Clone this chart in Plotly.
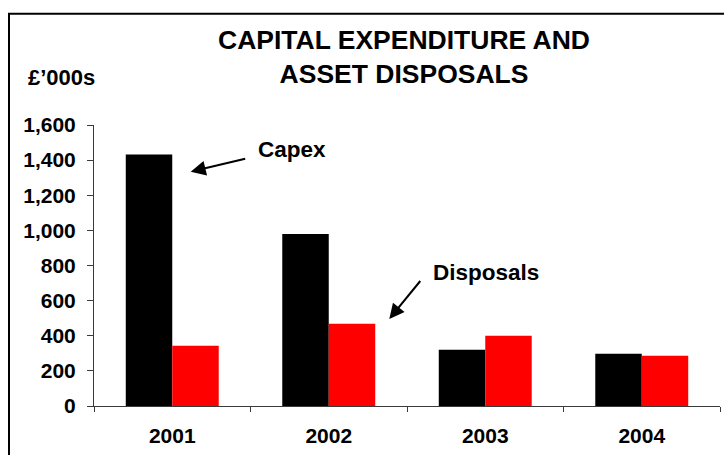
import plotly.graph_objects as go

# Data (£'000s)
years = ["2001", "2002", "2003", "2004"]
capex = [1432, 980, 320, 297]
disposals = [343, 468, 400, 286]
y_ticks = [0, 200, 400, 600, 800, 1000, 1200, 1400, 1600]

W, H = 724, 455
# plot-area edges in pixels
L, R, T, B = 94, 720, 125, 406

FONT = "Liberation Sans, Arial, sans-serif"


def px(x, y):
    """Convert page pixels to paper coordinates of the plot area."""
    return (x - L) / (R - L), (B - y) / (B - T)


fig = go.Figure()
fig.add_trace(go.Bar(x=years, y=capex, name="Capex",
                     marker=dict(color="#000000", line=dict(width=0))))
fig.add_trace(go.Bar(x=years, y=disposals, name="Disposals",
                     marker=dict(color="#FF0000", line=dict(width=0))))

axis_col = "#3a3a3a"
fig.update_layout(
    width=W, height=H,
    margin=dict(l=L, r=W - R, t=T, b=H - B, pad=0),
    paper_bgcolor="white", plot_bgcolor="white",
    showlegend=False,
    barmode="group", bargap=0.406, bargroupgap=0,
    font=dict(family=FONT, color="black"),
    xaxis=dict(
        type="category", range=[-0.5, 3.5],
        showline=True, linecolor=axis_col, linewidth=1,
        ticks="outside", ticklen=5, tickcolor=axis_col, tickwidth=1,
        tickson="boundaries", showgrid=False, zeroline=False,
        tickfont=dict(family=FONT, size=21, weight="bold", color="black"),
        ticklabelstandoff=11,
    ),
    yaxis=dict(
        range=[0, 1600], tickvals=y_ticks, tickformat=",d",
        showline=True, linecolor=axis_col, linewidth=1,
        ticks="outside", ticklen=6, tickcolor=axis_col, tickwidth=1,
        showgrid=False, zeroline=False,
        tickfont=dict(family=FONT, size=21, weight="bold", color="black"),
        ticklabelstandoff=7,
    ),
)

# Outer frame (runs off the right and bottom edges)
x0, y0 = px(9, 13.7)
x1, y1 = px(W + 10, H + 10)
fig.add_shape(type="rect", xref="paper", yref="paper",
              x0=x0, y0=y1, x1=x1, y1=y0,
              line=dict(color="black", width=2), fillcolor="rgba(0,0,0,0)",
              layer="above")

# Title
tx, ty = px(403.5, 57.5)
fig.add_annotation(xref="paper", yref="paper", x=tx, y=ty,
                   xanchor="center", yanchor="middle", showarrow=False,
                   text="CAPITAL EXPENDITURE AND<br>ASSET DISPOSALS",
                   font=dict(family=FONT, size=26.5, weight="bold", color="black"))

# Unit label
ux, uy = px(26.0, 77)
fig.add_annotation(xref="paper", yref="paper", x=ux, y=uy,
                   xanchor="left", yanchor="middle", showarrow=False,
                   text="£’000s",
                   font=dict(family=FONT, size=22, weight="bold", color="black"))

# Series call-outs
for label, (lx, ly) in [("Capex", (255.5, 149)), ("Disposals", (431.0, 272))]:
    ax_, ay_ = px(lx, ly)
    fig.add_annotation(xref="paper", yref="paper", x=ax_, y=ay_,
                       xanchor="left", yanchor="middle", showarrow=False,
                       text=label,
                       font=dict(family=FONT, size=22.5, weight="bold", color="black"))

# Arrows: (head, tail) in page pixels
for (hx, hy), (sx, sy) in [((190.7, 171.7), (246.7, 158.3)),
                           ((389.3, 319.0), (421.5, 279.5))]:
    hxp, hyp = px(hx, hy)
    fig.add_annotation(xref="paper", yref="paper", x=hxp, y=hyp,
                       axref="pixel", ayref="pixel", ax=sx - hx, ay=sy - hy,
                       text="", showarrow=True,
                       arrowhead=2, arrowsize=1.5, arrowwidth=2,
                       arrowcolor="black", standoff=0, startstandoff=0)

fig.write_html("out.html")
